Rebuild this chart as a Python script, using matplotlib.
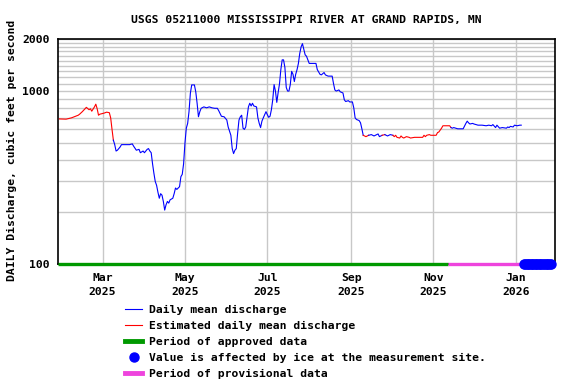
import matplotlib
matplotlib.use("Agg")
import matplotlib.pyplot as plt
import matplotlib.dates as mdates
from matplotlib.lines import Line2D
from matplotlib.ticker import FixedLocator, NullFormatter
import pandas as pd

# daily mean discharge (cfs)
dates = [
    "2025-01-28", "2025-02-02", "2025-02-06", "2025-02-08", "2025-02-11", "2025-02-12",
    "2025-02-14", "2025-02-17", "2025-02-19", "2025-02-20", "2025-02-21", "2025-02-23",
    "2025-02-24", "2025-02-25", "2025-02-26", "2025-02-27", "2025-03-02", "2025-03-04",
    "2025-03-06", "2025-03-07", "2025-03-08", "2025-03-09", "2025-03-10", "2025-03-11",
    "2025-03-12", "2025-03-14", "2025-03-15", "2025-03-18", "2025-03-21", "2025-03-23",
    "2025-03-24", "2025-03-26", "2025-03-28", "2025-03-29", "2025-03-31", "2025-04-01",
    "2025-04-03", "2025-04-04", "2025-04-05", "2025-04-06", "2025-04-07", "2025-04-08",
    "2025-04-09", "2025-04-10", "2025-04-11", "2025-04-12", "2025-04-13", "2025-04-14",
    "2025-04-15", "2025-04-16", "2025-04-17", "2025-04-18", "2025-04-19", "2025-04-20",
    "2025-04-22", "2025-04-23", "2025-04-24", "2025-04-25", "2025-04-27", "2025-04-28",
    "2025-04-29", "2025-04-30", "2025-05-01", "2025-05-02", "2025-05-03", "2025-05-04",
    "2025-05-05", "2025-05-06", "2025-05-08", "2025-05-09", "2025-05-10", "2025-05-11",
    "2025-05-12", "2025-05-13", "2025-05-15", "2025-05-17", "2025-05-19", "2025-05-21",
    "2025-05-23", "2025-05-25", "2025-05-26", "2025-05-28", "2025-05-30", "2025-06-01",
    "2025-06-02", "2025-06-04", "2025-06-05", "2025-06-06", "2025-06-07", "2025-06-08",
    "2025-06-09", "2025-06-10", "2025-06-11", "2025-06-12", "2025-06-13", "2025-06-14",
    "2025-06-15", "2025-06-16", "2025-06-17", "2025-06-18", "2025-06-19", "2025-06-20",
    "2025-06-21", "2025-06-23", "2025-06-24", "2025-06-25", "2025-06-26", "2025-06-27",
    "2025-06-28", "2025-06-30", "2025-07-01", "2025-07-02", "2025-07-03", "2025-07-04",
    "2025-07-05", "2025-07-06", "2025-07-07", "2025-07-08", "2025-07-09", "2025-07-10",
    "2025-07-11", "2025-07-12", "2025-07-13", "2025-07-14", "2025-07-15", "2025-07-16",
    "2025-07-17", "2025-07-18", "2025-07-19", "2025-07-20", "2025-07-21", "2025-07-22",
    "2025-07-23", "2025-07-24", "2025-07-25", "2025-07-26", "2025-07-27", "2025-07-28",
    "2025-07-29", "2025-07-30", "2025-07-31", "2025-08-01", "2025-08-06", "2025-08-07",
    "2025-08-09", "2025-08-10", "2025-08-12", "2025-08-13", "2025-08-15", "2025-08-18",
    "2025-08-19", "2025-08-20", "2025-08-21", "2025-08-23", "2025-08-24", "2025-08-26",
    "2025-08-27", "2025-08-28", "2025-08-30", "2025-08-31", "2025-09-02", "2025-09-03",
    "2025-09-04", "2025-09-05", "2025-09-07", "2025-09-08", "2025-09-09", "2025-09-10",
    "2025-09-12", "2025-09-14", "2025-09-16", "2025-09-18", "2025-09-20", "2025-09-21",
    "2025-09-22", "2025-09-24", "2025-09-26", "2025-09-28", "2025-09-30", "2025-10-02",
    "2025-10-03", "2025-10-04", "2025-10-05", "2025-10-07", "2025-10-08", "2025-10-09",
    "2025-10-10", "2025-10-12", "2025-10-14", "2025-10-15", "2025-10-18", "2025-10-22",
    "2025-10-24", "2025-10-25", "2025-10-26", "2025-10-27", "2025-10-29", "2025-10-30",
    "2025-11-02", "2025-11-03", "2025-11-04", "2025-11-05", "2025-11-07", "2025-11-08",
    "2025-11-13", "2025-11-14", "2025-11-15", "2025-11-16", "2025-11-19", "2025-11-23",
    "2025-11-25", "2025-11-26", "2025-11-27", "2025-11-28", "2025-11-30", "2025-12-01",
    "2025-12-04", "2025-12-07", "2025-12-10", "2025-12-12", "2025-12-14", "2025-12-15",
    "2025-12-17", "2025-12-18", "2025-12-20", "2025-12-22", "2025-12-25", "2025-12-26",
    "2025-12-27", "2025-12-28", "2025-12-30", "2025-12-31", "2026-01-02", "2026-01-04",
    "2026-01-05",
]
flow = [
    690, 688, 700, 710, 725, 735,
    760, 805, 780, 790, 765, 810,
    840, 790, 725, 735, 745, 755,
    750, 700, 600, 520, 490, 450,
    455, 475, 490, 490, 490, 495,
    480, 455, 460, 440, 450, 440,
    460, 465, 450, 440, 380, 335,
    300, 285, 260, 240, 255, 250,
    230, 205, 220, 230, 225, 235,
    240, 255, 275, 270, 280, 320,
    330, 380, 500, 610, 650, 760,
    970, 1085, 1085, 990, 850, 710,
    760, 795, 810, 800, 810, 800,
    795, 795, 770, 715, 710, 680,
    620, 555, 465, 435, 455, 465,
    570, 680, 710, 725, 610, 600,
    620, 710, 810, 850, 820, 850,
    820, 810, 700, 650, 615, 670,
    700, 760, 730, 705, 715, 780,
    890, 1090, 1000, 860, 980, 1100,
    1330, 1515, 1515, 1370, 1050, 1000,
    1000, 1090, 1300, 1250, 1135, 1250,
    1330, 1445, 1650, 1800, 1880, 1750,
    1620, 1590, 1515, 1445, 1445, 1330,
    1250, 1240, 1280, 1240, 1220, 1220,
    1105, 1015, 1000, 1015, 990, 975,
    890, 870, 880, 865, 865, 800,
    700, 685, 675, 655, 605, 555,
    545, 555, 560, 550, 560, 565,
    545, 555, 560, 550, 560, 555,
    545, 555, 540, 535, 550, 540,
    535, 545, 540, 535, 540, 540,
    540, 555, 545, 555, 560, 555,
    555, 555, 575, 580, 610, 630,
    630, 615, 610, 615, 605, 605,
    650, 670, 655, 645, 650, 645,
    635, 635, 630, 635, 630, 640,
    615, 635, 610, 615, 610, 620,
    615, 625, 620, 635, 630, 635,
    635,
]

# periods with estimated values (red)
estimated = [
    ("2025-01-28", "2025-03-09"),
    ("2025-09-10", "2025-09-14"),
    ("2025-09-24", "2025-09-26"),
    ("2025-10-02", "2025-11-14"),
]
approved_period = ("2025-01-27", "2025-11-12")
provisional_period = ("2025-11-12", "2026-01-30")
ice_start, ice_end = "2026-01-07", "2026-01-27"

station = "USGS 05211000 MISSISSIPPI RIVER AT GRAND RAPIDS, MN"

s = pd.Series(flow, index=pd.to_datetime(dates))
is_est = pd.Series(False, index=s.index)
for a, b in estimated:
    is_est[a:b] = True

plt.rcParams["font.family"] = "DejaVu Sans Mono"
plt.rcParams["font.weight"] = "bold"
plt.rcParams["font.size"] = 8.2

fig = plt.figure(figsize=(5.76, 3.84), dpi=100)
ax = fig.add_axes([58 / 576, 1 - 264 / 384, 497 / 576, 225 / 384])

# a segment is red when both of its ends are estimated; draw runs of one colour
seg_red = (is_est.values[:-1] & is_est.values[1:]).tolist()
start = 0
for i in range(1, len(seg_red) + 1):
    if i == len(seg_red) or seg_red[i] != seg_red[start]:
        part = s.iloc[start:i + 1]
        ax.plot(part.index, part.values, color="#ff0000" if seg_red[start] else "#0000ff",
                lw=0.8, zorder=3)
        start = i

# data-quality bars along the bottom
ax.plot(pd.to_datetime(list(approved_period)), [100, 100], color="#009900",
        lw=2.4, solid_capstyle="butt", clip_on=False, zorder=5)
ax.plot(pd.to_datetime(list(provisional_period)), [100, 100], color="#ee44dd",
        lw=2.4, solid_capstyle="butt", clip_on=False, zorder=5)
ice = pd.date_range(ice_start, ice_end)
ax.plot(ice, [100] * len(ice), "o", color="#0000ff", ms=6.5, clip_on=False, zorder=6)

ax.set_yscale("log")
ax.set_ylim(100, 2000)
ax.set_xlim(pd.Timestamp("2025-01-27"), pd.Timestamp("2026-01-30"))

ax.yaxis.set_major_locator(FixedLocator([100, 1000, 2000]))
ax.yaxis.set_major_formatter(plt.FuncFormatter(lambda v, p: "%d" % v))
ax.yaxis.set_minor_locator(FixedLocator(list(range(200, 1000, 100)) + list(range(1100, 2000, 100))))
ax.yaxis.set_minor_formatter(NullFormatter())
ax.xaxis.set_major_locator(mdates.MonthLocator(bymonth=[1, 3, 5, 7, 9, 11]))
ax.xaxis.set_major_formatter(mdates.DateFormatter("%b\n%Y"))
for t in ax.get_xticklabels():
    t.set_linespacing(1.45)

ax.grid(True, which="both", axis="y", color="#c8c8c8", lw=1)
ax.grid(True, which="major", axis="x", color="#c8c8c8", lw=1)
ax.set_axisbelow(True)
ax.tick_params(which="both", length=0)
ax.tick_params(axis="y", pad=6)
ax.tick_params(axis="x", pad=6.5)
for sp in ax.spines.values():
    sp.set_linewidth(1.2)

fig.text(306.5 / 576, 1 - 20 / 384, station, ha="center", va="center")
fig.text(12 / 576, 1 - 150 / 384, "DAILY Discharge, cubic feet per second",
         rotation=90, ha="center", va="center")

handles = [
    Line2D([], [], color="#0000ff", lw=0.8),
    Line2D([], [], color="#ff0000", lw=0.8),
    Line2D([], [], color="#009900", lw=3.5),
    Line2D([], [], color="#0000ff", marker="o", ls="none", ms=6.5),
    Line2D([], [], color="#ee44dd", lw=3.5),
]
labels = [
    "Daily mean discharge",
    "Estimated daily mean discharge",
    "Period of approved data",
    "Value is affected by ice at the measurement site.",
    "Period of provisional data",
]
fig.legend(handles, labels, loc="upper left", bbox_to_anchor=(125 / 576, 1 - 305 / 384),
           frameon=False, borderpad=0, borderaxespad=0, handlelength=1.5,
           handletextpad=0.6, labelspacing=0.52)

fig.savefig("out.png", dpi=100)
